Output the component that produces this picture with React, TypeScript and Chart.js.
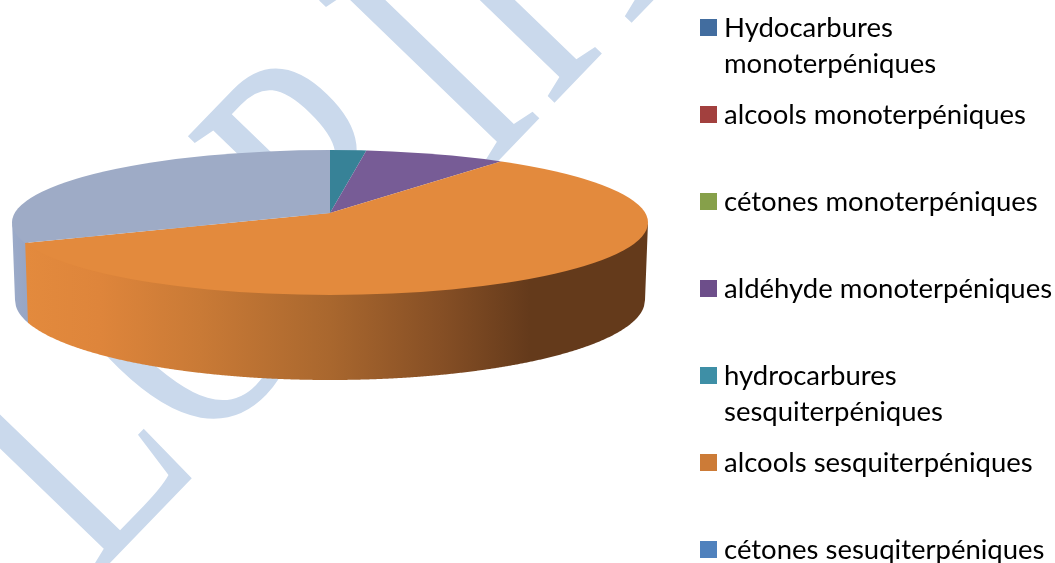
import React, { useEffect, useRef } from "react";
import { Chart, registerables } from "chart.js";

Chart.register(...registerables);

const sliceLabels = [
  "hydrocarbures sesquiterpéniques",
  "aldéhyde monoterpéniques",
  "alcools sesquiterpéniques",
  "cétones sesuqiterpéniques",
];
const sliceValues = [2.1, 8.2, 58.2, 31.5];
const sliceColors = ["#378297", "#775C96", "#E38A3D", "#9EABC6"];

const legendLines = [
  ["Hydocarbures", "monoterpéniques"],
  ["alcools monoterpéniques"],
  ["cétones monoterpéniques"],
  ["aldéhyde monoterpéniques"],
  ["hydrocarbures", "sesquiterpéniques"],
  ["alcools sesquiterpéniques"],
  ["cétones sesuqiterpéniques"],
];
const legendColors = ["#426D9F", "#A2403E", "#86A04A", "#6D4E8A", "#3E8FA6", "#CC7B37", "#4F81BD"];

const watermarkLetters = ["L", "O", "P", "I", "I", "I"];
const FONT = "Lato, 'Open Sans', sans-serif";

// pie geometry
const AX = 330, AY = 213; // apex
const CY = 222.5, RX = 318, RY = 72.5; // top ellipse
const BCY = 300, BRX = 315, BRY = 80; // bottom rim
const K = RY / RX;

function topY(x: number) {
  const t = (x - AX) / RX;
  return CY + RY * Math.sqrt(Math.max(0, 1 - t * t));
}
function botY(x: number) {
  const t = (x - AX) / BRX;
  return BCY + BRY * Math.sqrt(Math.max(0, 1 - t * t));
}
function rimX(angle: number) {
  const dx = Math.cos(angle), dy = K * Math.sin(angle);
  const oy = AY - CY;
  const a = (dx * dx) / (RX * RX) + (dy * dy) / (RY * RY);
  const b = (2 * (oy * dy)) / (RY * RY);
  const c = (oy * oy) / (RY * RY) - 1;
  const s = (-b + Math.sqrt(b * b - 4 * a * c)) / (2 * a);
  return AX + s * dx;
}
function wallPath(ctx: CanvasRenderingContext2D, x0: number, x1: number) {
  const insetL = ((x0 - AX) / RX) * (BRX - RX);
  const insetR = ((x1 - AX) / RX) * (BRX - RX);
  ctx.beginPath();
  // starts a little above the rim so that no seam shows under the top face
  ctx.moveTo(x0, topY(x0) - 3);
  for (let x = x0; x <= x1; x += 1) ctx.lineTo(x, topY(x) - 3);
  ctx.lineTo(x1, topY(x1));
  ctx.lineTo(x1 + insetR, botY(x1 + insetR));
  for (let x = x1 + insetR; x >= x0 + insetL; x -= 1) ctx.lineTo(x, botY(x));
  ctx.lineTo(x0 + insetL, botY(x0 + insetL));
  ctx.closePath();
}

const pie3d = {
  id: "pie3d",
  beforeDraw(chart: any) {
    const ctx: CanvasRenderingContext2D = chart.ctx;
    const offsets = [-143, 16, 234, 421, 511, 622];
    const lifts = [0, -8, 0, 0, 0, 0];
    ctx.save();
    ctx.fillStyle = "#CAD9EC";
    ctx.translate(193, 477);
    ctx.rotate((-46 * Math.PI) / 180);
    ctx.font = "400 367px 'Liberation Serif'";
    ctx.textBaseline = "alphabetic";
    watermarkLetters.forEach((ch, i) => {
      ctx.save();
      ctx.translate(offsets[i], lifts[i]);
      ctx.scale(0.71, 1);
      ctx.fillText(ch, 0, 0);
      ctx.restore();
    });
    ctx.restore();
  },
  beforeDatasetsDraw(chart: any) {
    const ctx: CanvasRenderingContext2D = chart.ctx;
    const arcs = chart.getDatasetMeta(0).data;
    const orange = arcs[2];
    const xStart = rimX(orange.endAngle);

    ctx.save();
    ctx.beginPath();
    ctx.rect(0, 0, 1055, 563);
    ctx.clip();
    const g2 = ctx.createLinearGradient(12, 0, 30, 0);
    g2.addColorStop(0, "#9BAAC8");
    g2.addColorStop(1, "#96A5C4");
    ctx.fillStyle = g2;
    ctx.beginPath();
    wallPath(ctx, 12, xStart + 1);
    ctx.fill();

    const g = ctx.createLinearGradient(25, 0, 648, 0);
    const stop = (x: number) => (x - 25) / 623;
    g.addColorStop(0, "#E38A3D");
    g.addColorStop(stop(100), "#DE853B");
    g.addColorStop(stop(200), "#C97A36");
    g.addColorStop(stop(330), "#A9672E");
    g.addColorStop(stop(440), "#864F25");
    g.addColorStop(stop(530), "#643A1B");
    g.addColorStop(1, "#643A1B");
    ctx.fillStyle = g;
    wallPath(ctx, xStart, 648);
    ctx.fill();
    ctx.restore();

    // the slices are drawn flattened, around the apex, and cut by the rim
    ctx.save();
    ctx.beginPath();
    ctx.ellipse(AX, CY, RX, RY, 0, 0, Math.PI * 2);
    ctx.clip();
    const first = arcs[0];
    const s = 420 / first.outerRadius;
    ctx.translate(AX, AY);
    ctx.scale(s, s * K);
    ctx.translate(-first.x, -first.y);
  },
  afterDatasetsDraw(chart: any) {
    chart.ctx.restore();
  },
};

export default function App() {
  const ref = useRef<HTMLCanvasElement | null>(null);
  useEffect(() => {
    const chart = new Chart(ref.current!, {
      type: "pie",
      data: {
        labels: sliceLabels,
        datasets: [{ data: sliceValues, backgroundColor: sliceColors, borderWidth: 0 }],
      },
      options: {
        animation: false,
        responsive: false,
        layout: { padding: { left: 0, right: 395, top: 0, bottom: 137 } },
        plugins: { legend: { display: false }, tooltip: { enabled: false } },
      },
      plugins: [pie3d],
    } as any);
    return () => chart.destroy();
  }, []);

  return (
    <div style={{ position: "fixed", left: 0, top: 0, width: 1055, height: 563, overflow: "hidden", background: "#fff" }}>
      <canvas ref={ref} width={1055} height={563} style={{ position: "absolute", left: 0, top: 0 }} />
      {legendLines.map((lines, i) => (
        <div key={i}>
          <div
            style={{
              position: "absolute",
              left: 700,
              top: 19 + i * 87,
              width: 17,
              height: 17,
              background: legendColors[i],
            }}
          />
          {lines.map((t, j) => (
            <div
              key={j}
              style={{
                position: "absolute",
                left: 724,
                top: 9 + i * 87 + j * 36,
                height: 36,
                lineHeight: "36px",
                fontFamily: FONT,
                fontSize: 27.5,
                color: "#000",
                whiteSpace: "nowrap",
              }}
            >
              {t}
            </div>
          ))}
        </div>
      ))}
    </div>
  );
}
